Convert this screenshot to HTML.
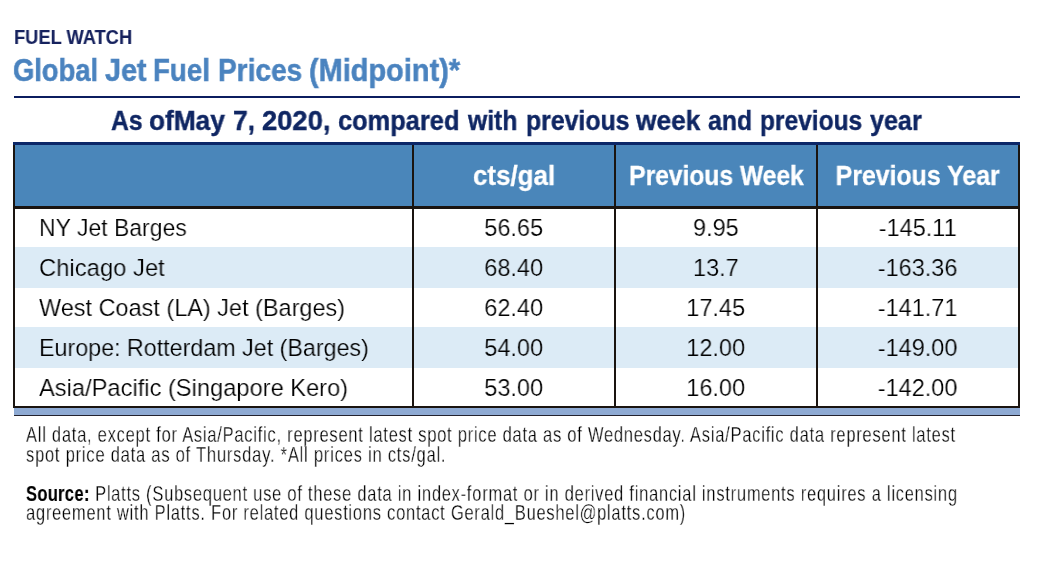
<!DOCTYPE html>
<html><head><meta charset="utf-8"><style>
html,body{margin:0;padding:0;background:#fff;}
body{width:1040px;height:563px;position:relative;overflow:hidden;font-family:"Liberation Sans",sans-serif;}
.a{position:absolute;white-space:nowrap;line-height:1;transform-origin:0 0;will-change:transform;}
.cw{position:absolute;white-space:nowrap;line-height:1;text-align:center;}
.cw span{display:inline-block;transform-origin:50% 0;will-change:transform;}
.rule{position:absolute;left:14px;top:96px;width:1006px;height:2px;background:#0b1d5f;}
.navy{position:absolute;left:13px;top:142px;width:1007px;height:3px;background:#0b2768;}
.hdr{position:absolute;left:13px;top:145px;width:1007px;height:61px;background:#4a86ba;}
.row{position:absolute;left:13px;width:1007px;background:#fff;}
.lb{background:#dcebf6;}
.vl{position:absolute;width:2px;background:#1a1410;}
.hl{position:absolute;height:2px;background:#1a1410;}
.bar{position:absolute;left:14px;top:408px;width:1006px;height:7px;background:#8eaad3;}
.bar2{position:absolute;left:14px;top:415px;width:1006px;height:1px;background:#22222e;}
</style></head><body>
<div class="a" style="left:14.00px;top:26.80px;font-size:20.2px;transform:scaleX(0.905);color:#16225e;font-weight:bold;-webkit-text-stroke:0.1px #16225e;">FUEL WATCH</div>
<div class="a" style="left:12.94px;top:55.74px;font-size:30.9px;transform:scaleX(0.8865);color:#4a83bf;font-weight:bold;-webkit-text-stroke:0.5px #4a83bf;">Global</div>
<div class="a" style="left:104.97px;top:55.74px;font-size:30.9px;transform:scaleX(0.9314);color:#4a83bf;font-weight:bold;-webkit-text-stroke:0.5px #4a83bf;">Jet</div>
<div class="a" style="left:153.04px;top:55.74px;font-size:30.9px;transform:scaleX(0.8964);color:#4a83bf;font-weight:bold;-webkit-text-stroke:0.5px #4a83bf;">Fuel</div>
<div class="a" style="left:218.08px;top:55.74px;font-size:30.9px;transform:scaleX(0.9076);color:#4a83bf;font-weight:bold;-webkit-text-stroke:0.5px #4a83bf;">Prices</div>
<div class="a" style="left:309.40px;top:55.74px;font-size:30.9px;transform:scaleX(0.9367);color:#4a83bf;font-weight:bold;-webkit-text-stroke:0.5px #4a83bf;">(Midpoint)*</div>
<div class="rule"></div>
<div class="a" style="left:111.19px;top:106.62px;font-size:27.5px;transform:scaleX(0.9009);color:#0f2663;font-weight:bold;-webkit-text-stroke:0.4px #0f2663;">As</div>
<div class="a" style="left:149.36px;top:106.62px;font-size:27.5px;transform:scaleX(0.9544);color:#0f2663;font-weight:bold;-webkit-text-stroke:0.4px #0f2663;">ofMay</div>
<div class="a" style="left:232.57px;top:106.62px;font-size:27.5px;transform:scaleX(0.96);color:#0f2663;font-weight:bold;-webkit-text-stroke:0.4px #0f2663;">7,</div>
<div class="a" style="left:262.14px;top:106.62px;font-size:27.5px;transform:scaleX(0.9932);color:#0f2663;font-weight:bold;-webkit-text-stroke:0.4px #0f2663;">2020,</div>
<div class="a" style="left:337.98px;top:106.62px;font-size:27.5px;transform:scaleX(0.9239);color:#0f2663;font-weight:bold;-webkit-text-stroke:0.4px #0f2663;">compared</div>
<div class="a" style="left:467.79px;top:106.62px;font-size:27.5px;transform:scaleX(0.8969);color:#0f2663;font-weight:bold;-webkit-text-stroke:0.4px #0f2663;">with</div>
<div class="a" style="left:526.03px;top:106.62px;font-size:27.5px;transform:scaleX(0.9033);color:#0f2663;font-weight:bold;-webkit-text-stroke:0.4px #0f2663;">previous</div>
<div class="a" style="left:636.01px;top:106.62px;font-size:27.5px;transform:scaleX(0.9552);color:#0f2663;font-weight:bold;-webkit-text-stroke:0.4px #0f2663;">week</div>
<div class="a" style="left:707.59px;top:106.62px;font-size:27.5px;transform:scaleX(0.905);color:#0f2663;font-weight:bold;-webkit-text-stroke:0.4px #0f2663;">and</div>
<div class="a" style="left:759.64px;top:106.62px;font-size:27.5px;transform:scaleX(0.8918);color:#0f2663;font-weight:bold;-webkit-text-stroke:0.4px #0f2663;">previous</div>
<div class="a" style="left:870.10px;top:106.62px;font-size:27.5px;transform:scaleX(0.914);color:#0f2663;font-weight:bold;-webkit-text-stroke:0.4px #0f2663;">year</div>
<div class="navy"></div><div class="hdr"></div>
<div class="row" style="top:209px;height:38px;"></div>
<div class="row lb" style="top:247px;height:41px;"></div>
<div class="row" style="top:288px;height:39px;"></div>
<div class="row lb" style="top:327px;height:41px;"></div>
<div class="row" style="top:368px;height:38px;"></div>
<div class="cw" style="left:414px;width:200px;top:161.98px;font-size:27.2px;color:#fff;font-weight:bold;-webkit-text-stroke:0.3px #fff;"><span style="transform:scaleX(0.955);">cts/gal</span></div>
<div class="cw" style="left:616px;width:200px;top:161.98px;font-size:27.2px;color:#fff;font-weight:bold;-webkit-text-stroke:0.3px #fff;"><span style="transform:scaleX(0.905);">Previous Week</span></div>
<div class="cw" style="left:818px;width:200px;top:161.98px;font-size:27.2px;color:#fff;font-weight:bold;-webkit-text-stroke:0.3px #fff;"><span style="transform:scaleX(0.915);">Previous Year</span></div>
<div class="a" style="left:39.30px;top:215.76px;font-size:24.5px;transform:scaleX(0.938);color:#000;-webkit-text-stroke:0.2px #fff;">NY Jet Barges</div>
<div class="cw" style="left:414px;width:200px;top:215.76px;font-size:24.5px;color:#000;-webkit-text-stroke:0.2px #fff;"><span style="transform:scaleX(0.96);">56.65</span></div>
<div class="cw" style="left:616px;width:200px;top:215.76px;font-size:24.5px;color:#000;-webkit-text-stroke:0.2px #fff;"><span style="transform:scaleX(0.96);">9.95</span></div>
<div class="cw" style="left:818px;width:200px;top:215.76px;font-size:24.5px;color:#000;-webkit-text-stroke:0.2px #fff;"><span style="transform:scaleX(0.96);">-145.11</span></div>
<div class="a" style="left:39.30px;top:255.76px;font-size:24.5px;transform:scaleX(0.972);color:#000;-webkit-text-stroke:0.2px #dcebf6;">Chicago Jet</div>
<div class="cw" style="left:414px;width:200px;top:255.76px;font-size:24.5px;color:#000;-webkit-text-stroke:0.2px #dcebf6;"><span style="transform:scaleX(0.96);">68.40</span></div>
<div class="cw" style="left:616px;width:200px;top:255.76px;font-size:24.5px;color:#000;-webkit-text-stroke:0.2px #dcebf6;"><span style="transform:scaleX(0.96);">13.7</span></div>
<div class="cw" style="left:818px;width:200px;top:255.76px;font-size:24.5px;color:#000;-webkit-text-stroke:0.2px #dcebf6;"><span style="transform:scaleX(0.96);">-163.36</span></div>
<div class="a" style="left:39.30px;top:295.76px;font-size:24.5px;transform:scaleX(0.958);color:#000;-webkit-text-stroke:0.2px #fff;">West Coast (LA) Jet (Barges)</div>
<div class="cw" style="left:414px;width:200px;top:295.76px;font-size:24.5px;color:#000;-webkit-text-stroke:0.2px #fff;"><span style="transform:scaleX(0.96);">62.40</span></div>
<div class="cw" style="left:616px;width:200px;top:295.76px;font-size:24.5px;color:#000;-webkit-text-stroke:0.2px #fff;"><span style="transform:scaleX(0.96);">17.45</span></div>
<div class="cw" style="left:818px;width:200px;top:295.76px;font-size:24.5px;color:#000;-webkit-text-stroke:0.2px #fff;"><span style="transform:scaleX(0.96);">-141.71</span></div>
<div class="a" style="left:39.30px;top:335.76px;font-size:24.5px;transform:scaleX(0.95);color:#000;-webkit-text-stroke:0.2px #dcebf6;">Europe: Rotterdam Jet (Barges)</div>
<div class="cw" style="left:414px;width:200px;top:335.76px;font-size:24.5px;color:#000;-webkit-text-stroke:0.2px #dcebf6;"><span style="transform:scaleX(0.96);">54.00</span></div>
<div class="cw" style="left:616px;width:200px;top:335.76px;font-size:24.5px;color:#000;-webkit-text-stroke:0.2px #dcebf6;"><span style="transform:scaleX(0.96);">12.00</span></div>
<div class="cw" style="left:818px;width:200px;top:335.76px;font-size:24.5px;color:#000;-webkit-text-stroke:0.2px #dcebf6;"><span style="transform:scaleX(0.96);">-149.00</span></div>
<div class="a" style="left:39.30px;top:375.76px;font-size:24.5px;transform:scaleX(0.966);color:#000;-webkit-text-stroke:0.2px #fff;">Asia/Pacific (Singapore Kero)</div>
<div class="cw" style="left:414px;width:200px;top:375.76px;font-size:24.5px;color:#000;-webkit-text-stroke:0.2px #fff;"><span style="transform:scaleX(0.96);">53.00</span></div>
<div class="cw" style="left:616px;width:200px;top:375.76px;font-size:24.5px;color:#000;-webkit-text-stroke:0.2px #fff;"><span style="transform:scaleX(0.96);">16.00</span></div>
<div class="cw" style="left:818px;width:200px;top:375.76px;font-size:24.5px;color:#000;-webkit-text-stroke:0.2px #fff;"><span style="transform:scaleX(0.96);">-142.00</span></div>
<div class="vl" style="left:13px;top:145px;height:263px;"></div>
<div class="vl" style="left:1018px;top:145px;height:263px;"></div>
<div class="vl" style="left:412px;top:145px;height:261px;"></div>
<div class="vl" style="left:614px;top:145px;height:261px;"></div>
<div class="vl" style="left:816px;top:145px;height:261px;"></div>
<div class="hl" style="left:13px;top:206px;width:1007px;height:3px;"></div>
<div class="hl" style="left:13px;top:406px;width:1007px;"></div>
<div class="bar"></div><div class="bar2"></div>
<div class="a" style="left:25.90px;top:424.57px;font-size:21.3px;transform:scaleX(0.7725);color:#000;letter-spacing:1.0px;-webkit-text-stroke:0.3px #fff;">All data, except for Asia/Pacific, represent latest spot price data as of Wednesday. Asia/Pacific data represent latest</div>
<div class="a" style="left:25.90px;top:444.57px;font-size:21.3px;transform:scaleX(0.7756);color:#000;letter-spacing:1.0px;-webkit-text-stroke:0.3px #fff;">spot price data as of Thursday. *All prices in cts/gal.</div>
<div class="a" style="left:25.90px;top:483.67px;font-size:21.3px;transform:scaleX(0.772);color:#000;letter-spacing:1.0px;-webkit-text-stroke:0.3px #fff;"><b style="letter-spacing:0.46px;-webkit-text-stroke:0.1px #000;">Source:</b> Platts (Subsequent use of these data in index-format or in derived financial instruments requires a licensing</div>
<div class="a" style="left:25.90px;top:502.67px;font-size:21.3px;transform:scaleX(0.7723);color:#000;letter-spacing:1.0px;-webkit-text-stroke:0.3px #fff;">agreement with Platts. For related questions contact Gerald_Bueshel@platts.com)</div>
</body></html>
